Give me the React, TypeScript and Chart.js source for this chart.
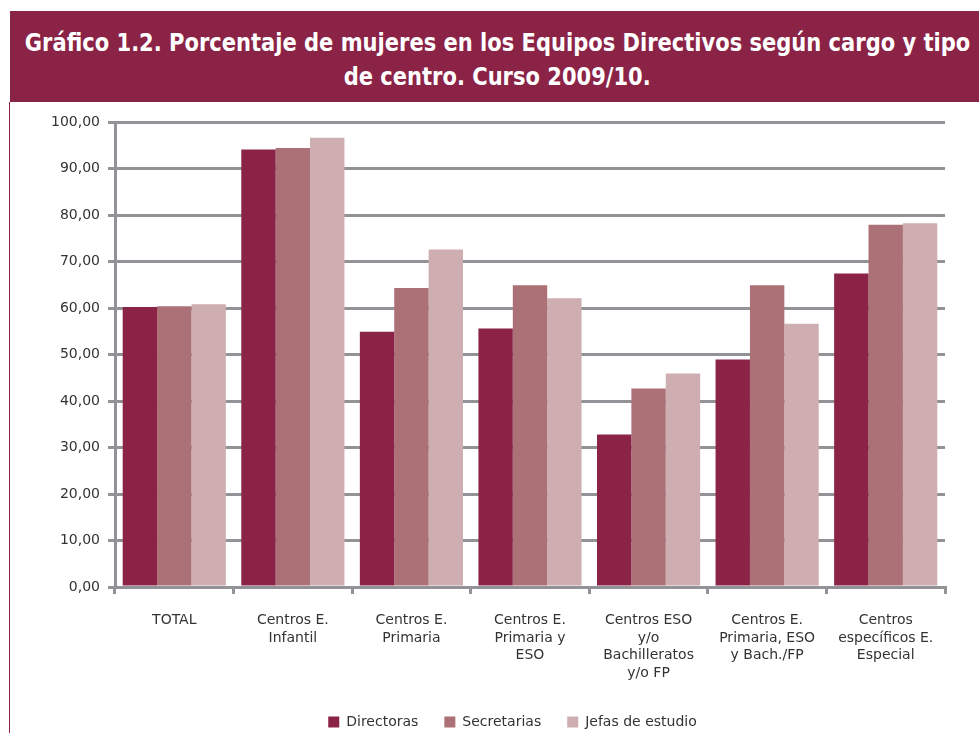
import React, { useEffect, useRef } from "react";
import { Chart, registerables } from "chart.js";

Chart.register(...registerables);

const TITLE_LINE_1 = "Gráfico 1.2. Porcentaje de mujeres en los Equipos Directivos según cargo y tipo";
const TITLE_LINE_2 = "de centro. Curso 2009/10.";

const categories: (string | string[])[] = [
  "TOTAL",
  ["Centros E.", "Infantil"],
  ["Centros E.", "Primaria"],
  ["Centros E.", "Primaria y", "ESO"],
  ["Centros ESO", "y/o", "Bachilleratos", "y/o FP"],
  ["Centros E.", "Primaria, ESO", "y Bach./FP"],
  ["Centros", "específicos E.", "Especial"],
];

const seriesNames = ["Directoras", "Secretarias", "Jefas de estudio"];
const directoras = [60.2, 94.1, 54.9, 55.6, 32.8, 48.9, 67.4];
const secretarias = [60.4, 94.4, 64.3, 64.9, 42.7, 64.9, 77.9];
const jefas = [60.8, 96.6, 72.6, 62.1, 45.9, 56.6, 78.2];

const yMin = 0;
const yMax = 100;
const yStep = 10;

const COLORS = ["#8a2346", "#ac7177", "#ceaeb0"];
const GRID = "#939397";
const MAROON = "#8a2346";

const shiftLegend = {
  id: "shiftLegend",
  afterLayout(chart: any) {
    const l = chart.legend;
    if (l) {
      l.left += 40;
      l.right += 40;
    }
  },
};

export default function App() {
  const canvasRef = useRef<HTMLCanvasElement | null>(null);

  useEffect(() => {
    if (!canvasRef.current) return;
    const chart = new Chart(canvasRef.current, {
      type: "bar",
      data: {
        labels: categories as any,
        datasets: [
          { label: seriesNames[0], data: directoras, backgroundColor: COLORS[0] },
          { label: seriesNames[1], data: secretarias, backgroundColor: COLORS[1] },
          { label: seriesNames[2], data: jefas, backgroundColor: COLORS[2] },
        ],
      },
      plugins: [shiftLegend],
      options: {
        animation: false,
        responsive: false,
        maintainAspectRatio: false,
        layout: { padding: { left: 0, right: 34, top: 122, bottom: -6 } },
        datasets: {
          bar: { categoryPercentage: 0.87, barPercentage: 1.0 },
        },
        plugins: {
          legend: {
            position: "bottom",
            labels: {
              boxWidth: 11,
              boxHeight: 11,
              padding: 26,
              color: "#333333",
              font: { family: "'DejaVu Sans', Verdana, sans-serif", size: 14 },
            },
          },
          tooltip: { enabled: false },
        },
        scales: {
          x: {
            grid: {
              display: true,
              drawOnChartArea: false,
              drawTicks: true,
              tickLength: 7,
              color: GRID,
              lineWidth: 3,
              offset: true,
            },
            border: { display: true, color: GRID, width: 3 },
            ticks: {
              color: "#333333",
              padding: 18,
              maxRotation: 0,
              autoSkip: false,
              font: { family: "'DejaVu Sans', Verdana, sans-serif", size: 14, lineHeight: 1.25 },
            },
            afterFit: (s: any) => {
              s.height = 102;
            },
          },
          y: {
            min: yMin,
            max: yMax,
            grid: {
              color: GRID,
              lineWidth: 3,
              drawTicks: true,
              tickLength: 7,
            },
            border: { display: true, color: GRID, width: 3 },
            ticks: {
              stepSize: yStep,
              color: "#333333",
              padding: 8,
              font: { family: "'DejaVu Sans', Verdana, sans-serif", size: 14 },
              callback: (v: any) => Number(v).toFixed(2).replace(".", ","),
            },
            afterFit: (s: any) => {
              s.width = 115;
            },
          },
        },
      },
    });
    return () => chart.destroy();
  }, []);

  const lineStyle: React.CSSProperties = {
    display: "block",
    textAlign: "center",
    marginLeft: -200,
    width: 1375,
  };
  const innerStyle: React.CSSProperties = {
    display: "inline-block",
    transform: "scaleX(0.935)",
    transformOrigin: "center",
  };

  return (
    <div
      style={{
        position: "fixed",
        left: 0,
        top: 0,
        width: 979,
        height: 733,
        overflow: "hidden",
        background: "#ffffff",
      }}
    >
      <canvas
        ref={canvasRef}
        width={979}
        height={733}
        style={{ position: "absolute", left: 0, top: 0, width: 979, height: 733 }}
      />
      <div
        style={{
          position: "absolute",
          left: 10,
          top: 11,
          width: 975,
          height: 91,
          background: MAROON,
          color: "#ffffff",
          fontFamily: "'DejaVu Sans Condensed', 'Liberation Sans Narrow', sans-serif",
          fontWeight: 700,
          fontSize: 25,
          lineHeight: "34px",
          boxSizing: "border-box",
          paddingTop: 15,
          whiteSpace: "nowrap",
        }}
      >
        <div style={lineStyle}>
          <span style={innerStyle}>{TITLE_LINE_1}</span>
        </div>
        <div style={lineStyle}>
          <span style={innerStyle}>{TITLE_LINE_2}</span>
        </div>
      </div>
      <div
        style={{
          position: "absolute",
          left: 9,
          top: 102,
          width: 1,
          height: 631,
          background: MAROON,
        }}
      />
    </div>
  );
}
